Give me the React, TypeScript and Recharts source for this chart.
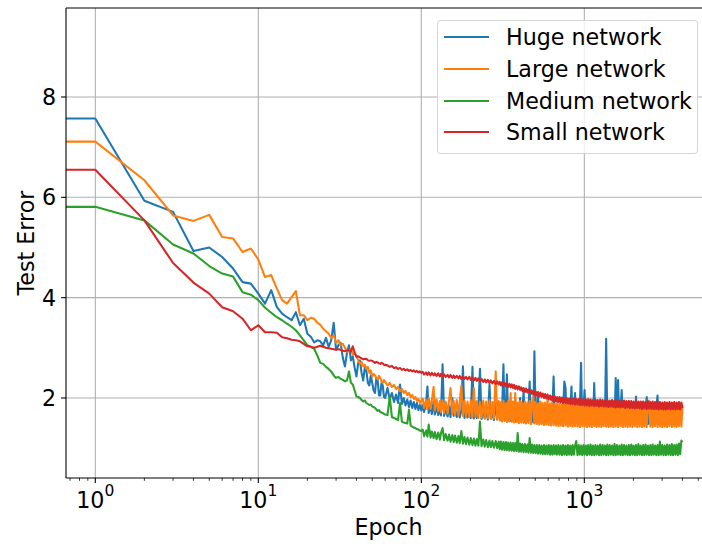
import React from 'react';
import { LineChart, Line, XAxis, YAxis, CartesianGrid } from 'recharts';

// Epoch 0 cannot sit on a log axis; it is drawn just left of the visible range (as matplotlib clips it).
const EPOCHS = [
  // epochs 0..30
  0.5, 1, 2, 3, 4, 5, 6, 7, 8, 9, 10, 11, 12, 13, 14, 15, 16, 17, 18, 19, 20, 21, 22, 23, 24, 25, 26, 27, 28, 29, 30,
  // 31..60
  31, 32, 33, 34, 35, 36, 37, 38, 39, 40,
  41, 42, 43, 44, 45, 46, 47, 48, 49, 50,
  51, 52, 53, 54, 55, 56, 57, 58, 59, 60,
  // 62..100
  62, 64, 66, 68, 70, 72, 74, 76, 78, 80,
  82, 84, 86, 88, 90, 92, 94, 96, 98, 100,
  // 102..298
  102, 104, 107, 109, 111, 114, 116, 119, 121, 124,
  127, 130, 132, 135, 138, 141, 145, 148, 151, 155,
  158, 161, 165, 169, 172, 176, 180, 184, 188, 192,
  197, 201, 206, 210, 215, 219, 224, 229, 234, 240,
  245, 250, 256, 262, 267, 273, 279, 286, 292, 298,
  // 303..4000
  303, 308, 313, 319, 324, 330, 335, 341, 347, 353,
  359, 365, 371, 377, 384, 390, 397, 404, 410, 417,
  424, 432, 439, 447, 454, 462, 470, 478, 486, 494,
  503, 511, 520, 529, 538, 547, 556, 566, 575, 585,
  595, 605, 616, 626, 637, 648, 659, 670, 681, 693,
  705, 717, 729, 741, 754, 767, 780, 793, 807, 820,
  834, 848, 863, 877, 892, 908, 923, 939, 955, 971,
  988, 1004, 1022, 1039, 1057, 1075, 1093, 1111, 1130, 1150,
  1169, 1189, 1209, 1230, 1251, 1272, 1294, 1316, 1338, 1361,
  1384, 1408, 1432, 1456, 1481, 1506, 1532, 1558, 1584, 1611,
  1639, 1667, 1695, 1724, 1753, 1783, 1813, 1844, 1876, 1907,
  1940, 1973, 2006, 2040, 2075, 2110, 2146, 2183, 2220, 2258,
  2296, 2335, 2375, 2415, 2456, 2498, 2541, 2584, 2628, 2672,
  2718, 2764, 2811, 2859, 2908, 2957, 3007, 3059, 3111, 3164,
  3217, 3272, 3328, 3384, 3442, 3500, 3560, 3620, 3682, 3745,
  3808, 3873, 3939, 4000,
];

const HUGE = [
  7.57, 7.57, 5.93, 5.71, 4.93, 5.0, 4.81, 4.58, 4.31, 4.28, 4.08, 3.88, 4.15, 3.81, 3.68, 3.61, 3.55, 3.71, 3.45, 3.58, 3.28, 3.22, 3.11, 3.15, 3.13, 3.05, 3.2, 3.02, 3.15, 3.5, 2.96,
  3.05, 3.1, 2.8, 2.63, 2.9, 3.05, 2.75, 2.83, 2.6, 2.43,
  2.7, 2.75, 2.5, 2.35, 2.6, 2.55, 2.3, 2.25, 2.45, 2.3,
  2.15, 2.1, 2.4, 2.35, 2.05, 2.05, 2.3, 2.25, 2.02, 2.0,
  2.2, 1.98, 2.1, 1.92, 2.07, 1.9, 2.27, 1.88, 2.0, 1.85,
  1.97, 1.82, 1.95, 1.8, 1.92, 1.78, 1.9, 1.76, 1.86, 1.75,
  1.86, 1.72, 1.9, 2.23, 1.7, 1.85, 1.68, 1.93, 1.67, 1.82,
  1.66, 1.8, 1.65, 2.67, 1.64, 1.78, 1.63, 1.84, 1.62, 2.0,
  1.64, 1.77, 1.62, 1.8, 1.61, 1.75, 2.63, 1.6, 1.76, 1.61,
  1.74, 1.6, 2.62, 1.59, 1.73, 1.6, 1.78, 2.58, 1.58, 1.72,
  1.59, 1.74, 1.57, 2.27, 1.58, 1.71, 1.56, 1.9, 1.57, 1.7,
  1.72, 1.56, 1.74, 2.67, 1.55, 1.73, 2.47, 1.55, 1.75, 1.54,
  1.72, 1.55, 1.76, 1.53, 1.73, 1.54, 1.78, 2.0, 1.53, 1.74,
  2.13, 1.52, 1.76, 1.53, 1.72, 2.33, 1.52, 1.75, 1.51, 2.93,
  1.52, 1.74, 2.1, 1.51, 1.75, 1.5, 1.78, 1.51, 1.73, 1.5,
  1.76, 1.51, 1.74, 1.5, 1.77, 2.43, 1.5, 1.75, 1.49, 1.78,
  1.5, 1.74, 1.49, 1.76, 2.33, 2.2, 1.49, 1.77, 1.5, 1.74,
  2.23, 1.49, 1.76, 2.1, 1.5, 1.75, 1.48, 1.77, 2.7, 1.49,
  1.76, 2.16, 1.49, 1.75, 1.48, 1.78, 1.49, 1.74, 1.48, 2.3,
  1.49, 1.76, 1.48, 1.77, 1.49, 1.75, 1.48, 1.78, 1.49, 3.18,
  1.48, 1.76, 1.49, 1.77, 1.48, 1.75, 1.49, 2.4, 1.48, 2.36,
  1.49, 1.76, 2.16, 1.48, 1.77, 1.49, 1.75, 1.48, 1.78, 1.49,
  1.76, 1.48, 1.77, 1.49, 2.03, 1.48, 1.76, 1.49, 1.77, 1.48,
  1.75, 1.49, 1.77, 2.02, 1.48, 1.76, 1.49, 1.78, 1.48, 1.75,
  1.49, 1.77, 2.05, 1.48, 1.76, 1.49, 1.75, 1.48, 1.77, 1.49,
  1.76, 1.48, 1.78, 1.49, 1.75, 1.48, 1.77, 1.49, 1.76, 1.48,
  1.8, 1.49, 1.76, 1.7,
];

const LARGE = [
  7.11, 7.11, 6.34, 5.64, 5.53, 5.65, 5.21, 5.18, 4.91, 4.98, 4.76, 4.41, 4.45, 4.18, 3.95, 3.88, 4.01, 4.13, 3.65, 3.65, 3.55, 3.6, 3.58, 3.5, 3.46, 3.38, 3.33, 3.28, 3.2, 3.25, 3.1,
  3.15, 3.05, 3.08, 3.0, 2.92, 2.95, 2.98, 2.86, 2.9, 2.83,
  2.75, 2.68, 2.72, 2.63, 2.66, 2.58, 2.62, 2.5, 2.55, 2.43,
  2.48, 2.45, 2.4, 2.37, 2.44, 2.4, 2.33, 2.3, 2.36, 2.32,
  2.25, 2.3, 2.22, 2.26, 2.18, 2.22, 2.14, 2.18, 2.1, 2.14,
  2.06, 2.1, 2.02, 2.06, 1.98, 2.02, 1.94, 1.98, 1.9, 1.95,
  1.99, 1.8, 1.96, 1.77, 2.0, 1.78, 1.95, 2.22, 1.75, 1.97,
  1.74, 1.94, 1.72, 1.96, 1.7, 1.93, 1.69, 1.95, 2.2, 1.68,
  1.94, 1.66, 1.96, 1.65, 1.92, 2.25, 1.64, 1.95, 1.63, 1.93,
  1.62, 1.96, 1.61, 2.2, 1.62, 1.94, 1.6, 1.92, 1.61, 1.95,
  1.59, 1.93, 1.6, 1.96, 1.58, 1.92, 1.59, 2.53, 1.57, 1.94,
  1.55, 1.92, 1.53, 1.95, 1.54, 1.9, 1.52, 1.94, 1.53, 2.1,
  1.52, 1.93, 1.51, 2.1, 1.52, 1.91, 1.5, 1.94, 1.51, 1.9,
  1.5, 1.93, 1.49, 1.91, 1.5, 1.94, 1.48, 1.9, 2.03, 1.49,
  1.92, 1.48, 1.89, 1.47, 1.93, 1.48, 1.9, 1.46, 1.91, 1.47,
  2.0, 1.46, 1.89, 1.45, 1.91, 1.46, 1.88, 1.45, 1.9, 1.44,
  1.89, 1.45, 1.87, 1.44, 1.9, 1.45, 1.88, 1.43, 1.89, 1.44,
  1.87, 1.43, 1.89, 1.44, 1.86, 1.43, 1.88, 1.42, 1.87, 1.44,
  1.88, 1.43, 1.86, 1.42, 1.89, 1.43, 1.87, 1.42, 1.86, 1.44,
  1.88, 1.42, 1.87, 1.43, 1.89, 1.42, 1.86, 1.44, 1.88, 1.43,
  1.87, 1.42, 1.88, 1.43, 1.86, 1.42, 1.89, 1.43, 1.87, 1.42,
  1.88, 1.44, 1.86, 1.42, 1.87, 1.43, 1.89, 1.42, 1.86, 1.43,
  1.88, 1.42, 1.87, 1.44, 1.86, 1.42, 1.88, 1.43, 1.87, 1.42,
  1.89, 1.43, 1.86, 1.42, 1.88, 1.95, 1.43, 1.87, 1.42, 1.86,
  1.44, 1.88, 1.42, 1.87, 1.43, 1.89, 1.42, 1.86, 1.43, 1.88,
  1.42, 1.87, 1.44, 1.86, 1.42, 1.9, 1.43, 1.87, 1.42, 1.88,
  1.44, 1.87, 1.43, 1.85,
];

const MEDIUM = [
  5.81, 5.81, 5.54, 5.06, 4.88, 4.63, 4.48, 4.42, 4.11, 4.06, 3.95, 3.8, 3.7, 3.61, 3.55, 3.48, 3.42, 3.35, 3.25, 3.15, 3.05, 3.02, 2.98, 2.85, 2.7, 2.68, 2.62, 2.58, 2.53, 2.45, 2.4,
  2.42, 2.38, 2.36, 2.33, 2.35, 2.53, 2.3, 2.27, 2.15, 2.03,
  2.02, 2.0, 1.96, 1.93, 1.95, 1.9, 1.88, 1.86, 1.87, 1.83,
  1.82, 1.8, 1.77, 1.74, 1.76, 1.72, 1.71, 1.7, 1.68, 1.67,
  1.66, 2.03, 1.62, 1.6, 1.58, 1.56, 1.9, 1.53, 1.51, 1.5,
  1.49, 1.77, 1.45, 1.43, 1.41, 1.4, 1.38, 1.37, 1.35, 1.34,
  1.37, 1.24, 1.35, 1.23, 1.47, 1.21, 1.33, 1.2, 1.32, 1.18,
  1.31, 1.17, 1.3, 1.4, 1.16, 1.28, 1.15, 1.27, 1.13, 1.26,
  1.12, 1.25, 1.11, 1.24, 1.1, 1.34, 1.09, 1.22, 1.08, 1.21,
  1.07, 1.2, 1.06, 1.19, 1.05, 1.18, 1.05, 1.53, 1.04, 1.17,
  1.03, 1.16, 1.02, 1.15, 1.02, 1.14, 1.01, 1.14, 1.0, 1.13,
  0.98, 1.13, 0.97, 1.12, 0.96, 1.12, 0.96, 1.11, 0.95, 1.11,
  0.95, 1.1, 0.94, 1.1, 0.94, 1.3, 0.93, 1.09, 0.93, 1.08,
  0.92, 1.08, 0.92, 1.07, 0.91, 1.2, 0.91, 1.07, 0.9, 1.06,
  0.9, 1.06, 0.89, 1.06, 0.89, 1.05, 0.88, 1.06, 0.88, 1.05,
  0.88, 1.06, 0.87, 1.05, 0.87, 1.06, 0.88, 1.05, 0.87, 1.06,
  0.87, 1.05, 0.86, 1.06, 0.87, 1.05, 0.86, 1.06, 0.87, 1.05,
  0.86, 1.06, 0.87, 1.05, 1.14, 0.86, 1.06, 0.87, 1.05, 0.86,
  1.06, 0.87, 1.05, 0.86, 1.06, 0.87, 1.07, 0.86, 1.05, 0.86,
  1.06, 0.87, 1.05, 0.86, 1.07, 0.86, 1.06, 0.87, 1.05, 0.86,
  1.07, 0.86, 1.06, 0.87, 1.05, 0.86, 1.08, 0.86, 1.06, 0.87,
  1.05, 0.86, 1.07, 0.86, 1.06, 0.87, 1.05, 0.86, 1.06, 0.86,
  1.07, 0.87, 1.05, 0.86, 1.06, 0.86, 1.08, 0.87, 1.05, 0.86,
  1.06, 0.86, 1.07, 0.87, 1.05, 0.86, 1.06, 0.86, 1.07, 0.87,
  1.05, 0.86, 1.06, 0.86, 1.13, 0.87, 1.06, 0.86, 1.05, 0.86,
  1.07, 0.87, 1.06, 0.86, 1.08, 0.86, 1.06, 0.87, 1.07, 0.86,
  1.09, 0.88, 1.15, 1.12,
];

const SMALL = [
  6.55, 6.55, 5.54, 4.69, 4.3, 4.08, 3.81, 3.73, 3.58, 3.35, 3.45, 3.31, 3.31, 3.3, 3.21, 3.19, 3.16, 3.15, 3.13, 3.08, 3.03, 3.02, 3.0, 3.02, 3.04, 3.02, 3.0, 2.99, 2.98, 2.97, 2.96,
  2.97, 2.96, 2.94, 2.93, 2.95, 2.95, 2.93, 3.03, 2.9, 2.82,
  2.83, 2.81, 2.79, 2.77, 2.78, 2.78, 2.75, 2.74, 2.75, 2.74,
  2.72, 2.7, 2.72, 2.71, 2.69, 2.68, 2.7, 2.69, 2.66, 2.66,
  2.65, 2.62, 2.64, 2.6, 2.61, 2.58, 2.6, 2.56, 2.58, 2.55,
  2.57, 2.54, 2.56, 2.53, 2.55, 2.52, 2.54, 2.51, 2.53, 2.5,
  2.52, 2.47, 2.51, 2.46, 2.51, 2.45, 2.5, 2.45, 2.49, 2.44,
  2.49, 2.43, 2.48, 2.43, 2.47, 2.42, 2.46, 2.41, 2.46, 2.4,
  2.45, 2.4, 2.44, 2.39, 2.44, 2.38, 2.43, 2.38, 2.42, 2.37,
  2.42, 2.36, 2.41, 2.35, 2.4, 2.34, 2.39, 2.33, 2.38, 2.32,
  2.37, 2.31, 2.36, 2.3, 2.35, 2.29, 2.34, 2.28, 2.33, 2.27,
  2.32, 2.25, 2.31, 2.24, 2.3, 2.23, 2.29, 2.22, 2.28, 2.21,
  2.27, 2.2, 2.26, 2.18, 2.24, 2.17, 2.23, 2.16, 2.21, 2.14,
  2.2, 2.12, 2.19, 2.11, 2.17, 2.1, 2.16, 2.08, 2.15, 2.07,
  2.13, 2.05, 2.12, 2.03, 2.11, 2.02, 2.09, 2.0, 2.08, 1.99,
  2.07, 1.97, 2.05, 1.96, 2.04, 1.94, 2.03, 1.93, 2.02, 1.92,
  2.02, 1.91, 2.01, 1.9, 2.0, 1.9, 2.0, 1.89, 1.99, 1.88,
  1.99, 1.88, 1.99, 1.87, 1.98, 1.87, 1.98, 1.86, 1.98, 1.86,
  1.98, 1.85, 1.97, 1.85, 1.98, 1.84, 1.97, 1.85, 1.96, 1.84,
  1.97, 1.84, 1.96, 1.83, 1.97, 1.84, 1.96, 1.83, 1.95, 1.83,
  1.96, 1.82, 1.95, 1.83, 1.96, 1.82, 1.95, 1.81, 1.95, 1.82,
  1.95, 1.81, 1.94, 1.82, 1.95, 1.8, 1.94, 1.81, 1.94, 1.8,
  1.94, 1.8, 1.93, 1.79, 1.94, 1.8, 1.93, 1.79, 1.93, 1.78,
  1.93, 1.79, 1.92, 1.78, 1.93, 1.79, 1.92, 1.78, 1.93, 1.78,
  1.92, 1.78, 1.93, 1.77, 1.92, 1.78, 1.91, 1.77, 1.92, 1.77,
  1.91, 1.78, 1.92, 1.77, 1.91, 1.78, 1.92, 1.77, 1.91, 1.78,
  1.92, 1.77, 1.91, 1.8,
];

const SERIES_KEYS = ['huge', 'large', 'medium', 'small'];
const SERIES_NAMES = ['Huge network', 'Large network', 'Medium network', 'Small network'];
const SERIES_COLORS = ['#1f77b4', '#ff7f0e', '#2ca02c', '#d62728'];
const SERIES_VALUES = [HUGE, LARGE, MEDIUM, SMALL];

const X_MAJOR = [1, 10, 100, 1000];
const X_MINOR = [
  0.7, 0.8, 0.9, 2, 3, 4, 5, 6, 7, 8, 9, 20, 30, 40, 50, 60, 70, 80, 90,
  200, 300, 400, 500, 600, 700, 800, 900, 2000, 3000, 4000, 5000,
];
const Y_TICKS = [2, 4, 6, 8];
const X_DOMAIN = [0.661, 5986];
const Y_DOMAIN = [0.405, 9.774];

const FONT = "'DejaVu Sans', sans-serif";
const FS = 22.2;

const data = EPOCHS.map((e, i) => {
  const row: Record<string, number> = { epoch: e };
  SERIES_KEYS.forEach((k, j) => {
    row[k] = SERIES_VALUES[j][i];
  });
  return row;
});

const XTick = (props: any) => {
  const { x, y, payload } = props;
  const v = payload.value;
  const major = X_MAJOR.includes(v);
  return (
    <g>
      <line x1={x} x2={x} y1={y} y2={y + (major ? 4.9 : 2.8)} stroke="#000" strokeWidth={major ? 1.1 : 0.8} />
      {major && (
        <text x={x} y={y + 30} textAnchor="middle" fontSize={FS} fontFamily={FONT} fill="#000">
          <tspan>10</tspan>
          <tspan dy={-12.3} fontSize={15.5}>{Math.round(Math.log10(v))}</tspan>
        </text>
      )}
    </g>
  );
};

const XLabel = (props: any) => {
  const vb = props.viewBox || { x: 66, y: 478, width: 645, height: 70 };
  return (
    <text x={vb.x + vb.width / 2} y={vb.y + 57} textAnchor="middle" fontSize={FS} fontFamily={FONT} fill="#000">
      Epoch
    </text>
  );
};

const YLabel = (props: any) => {
  const vb = props.viewBox || { x: 0, y: 8, width: 66, height: 470 };
  const cx = vb.x + 26;
  const cy = vb.y + vb.height / 2;
  return (
    <text
      x={cx}
      y={cy}
      transform={`rotate(-90, ${cx}, ${cy})`}
      textAnchor="middle"
      dominantBaseline="central"
      fontSize={FS}
      fontFamily={FONT}
      fill="#000"
    >
      Test Error
    </text>
  );
};

const LegendBox = () => (
  <div
    style={{
      position: 'absolute',
      left: 437,
      top: 20,
      width: 261,
      height: 134,
      boxSizing: 'border-box',
      border: '1px solid rgba(204,204,204,0.8)',
      borderRadius: 4,
      background: 'rgba(255,255,255,0.8)',
      fontFamily: FONT,
      fontSize: FS,
      color: '#000',
    }}
  >
    {SERIES_NAMES.map((name, i) => (
      <div
        key={name}
        style={{ position: 'absolute', left: 0, top: -0.3 + i * 31.9, width: 259, height: 32 }}
      >
        <div
          style={{ position: 'absolute', left: 6, top: 15, width: 45, height: 2.1, background: SERIES_COLORS[i] }}
        />
        <div style={{ position: 'absolute', left: 68, top: 0, height: 32, lineHeight: '32px', whiteSpace: 'nowrap' }}>
          {name}
        </div>
      </div>
    ))}
  </div>
);

export default function App() {
  return (
    <div
      style={{
        position: 'absolute',
        left: 0,
        top: 0,
        width: 702,
        height: 548,
        overflow: 'hidden',
        background: '#fff',
      }}
    >
      <LineChart width={720} height={548} data={data} margin={{ top: 7, right: 9, bottom: 0, left: 0 }}>
        <CartesianGrid stroke="#b0b0b0" strokeWidth={1.1} verticalValues={X_MAJOR} horizontalValues={Y_TICKS} />
        <XAxis
          dataKey="epoch"
          type="number"
          scale="log"
          domain={X_DOMAIN}
          allowDataOverflow
          ticks={[...X_MAJOR, ...X_MINOR]}
          interval={0}
          tick={<XTick />}
          tickLine={false}
          tickSize={0}
          tickMargin={0}
          height={70}
          axisLine={{ stroke: '#000', strokeWidth: 1.1 }}
          label={XLabel}
        />
        <XAxis
          xAxisId="top"
          orientation="top"
          type="number"
          scale="log"
          domain={X_DOMAIN}
          allowDataOverflow
          ticks={[1]}
          tick={false}
          tickLine={false}
          height={1}
          axisLine={{ stroke: '#000', strokeWidth: 1.1 }}
        />
        <YAxis
          type="number"
          domain={Y_DOMAIN}
          allowDataOverflow
          ticks={Y_TICKS}
          interval={0}
          width={66}
          tickSize={4.9}
          tickMargin={4.9}
          tickLine={{ stroke: '#000', strokeWidth: 1.1 }}
          axisLine={{ stroke: '#000', strokeWidth: 1.1 }}
          tick={{ fontSize: FS, fontFamily: FONT, fill: '#000' }}
          label={YLabel}
        />
        {SERIES_KEYS.map((k, i) => (
          <Line
            key={k}
            dataKey={k}
            name={SERIES_NAMES[i]}
            type="linear"
            stroke={SERIES_COLORS[i]}
            strokeWidth={2.08}
            strokeLinejoin="round"
            dot={false}
            activeDot={false}
            isAnimationActive={false}
          />
        ))}
      </LineChart>
      <LegendBox />
    </div>
  );
}
